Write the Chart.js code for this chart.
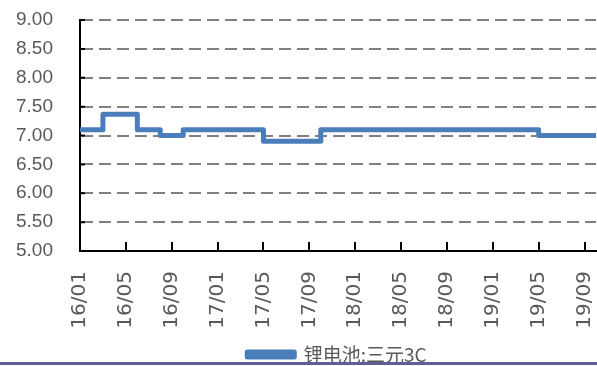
<!DOCTYPE html>
<html>
<head>
<meta charset="utf-8">
<script src="https://cdn.jsdelivr.net/npm/chart.js@4/dist/chart.umd.min.js"></script>
<style>
  html, body { margin: 0; padding: 0; background: #fff; }
  #wrap { width: 597px; height: 366px; position: relative; }
</style>
</head>
<body>
<div id="wrap"><canvas id="c"></canvas></div>
<script>
// 月度数据 16/01 - 19/10
const months = [
  '16/01','16/02','16/03','16/04','16/05','16/06','16/07','16/08','16/09','16/10','16/11','16/12',
  '17/01','17/02','17/03','17/04','17/05','17/06','17/07','17/08','17/09','17/10','17/11','17/12',
  '18/01','18/02','18/03','18/04','18/05','18/06','18/07','18/08','18/09','18/10','18/11','18/12',
  '19/01','19/02','19/03','19/04','19/05','19/06','19/07','19/08','19/09','19/10'
];
const ternary3C = [
  7.10, 7.10, 7.37, 7.37, 7.37, 7.10, 7.10, 7.00, 7.00, 7.10, 7.10, 7.10,
  7.10, 7.10, 7.10, 7.10, 6.90, 6.90, 6.90, 6.90, 6.90, 7.10, 7.10, 7.10,
  7.10, 7.10, 7.10, 7.10, 7.10, 7.10, 7.10, 7.10, 7.10, 7.10, 7.10, 7.10,
  7.10, 7.10, 7.10, 7.10, 7.00, 7.00, 7.00, 7.00, 7.00, 7.00
];
const seriesName = '锂电池:三元3C';

const LINE_COLOR = '#4A7EBB';
const TEXT_COLOR = '#595959';

function noPadding(scale) {
  scale.paddingLeft = 0; scale.paddingRight = 0;
  scale.paddingTop = 0; scale.paddingBottom = 0;
}

// 坐标轴内侧刻度 + 底部边线 + 图例位置微调
const innerTicks = {
  id: 'innerTicks',
  afterLayout(chart) {
    const lg = chart.legend;
    lg.left += 39; lg.right += 39;
    lg.top += 8; lg.bottom += 8;
  },
  afterDatasetsDraw(chart) {
    const { ctx, chartArea, scales } = chart;
    ctx.save();
    ctx.strokeStyle = '#000';
    ctx.lineWidth = 2;
    ctx.beginPath();
    scales.x.ticks.forEach((t, i) => {
      if (i % 4 !== 0 || i === 0) return;
      const x = Math.round(scales.x.getPixelForTick(i));
      ctx.moveTo(x, chartArea.bottom);
      ctx.lineTo(x, chartArea.bottom - 9);
    });
    scales.y.ticks.forEach((t, i) => {
      const y = scales.y.getPixelForTick(i);
      ctx.moveTo(chartArea.left, y);
      ctx.lineTo(chartArea.left + 5, y);
    });
    ctx.stroke();
    ctx.fillStyle = '#625e92';
    ctx.fillRect(0, 362, chart.width, 3);
    ctx.restore();
  }
};

new Chart(document.getElementById('c'), {
  type: 'line',
  data: {
    labels: months,
    datasets: [{
      label: seriesName,
      data: ternary3C,
      borderColor: LINE_COLOR,
      backgroundColor: LINE_COLOR,
      borderWidth: 5,
      borderJoinStyle: 'round',
      pointRadius: 0,
      stepped: 'before',
      fill: false
    }]
  },
  options: {
    responsive: true, maintainAspectRatio: false,
    animation: false,
    layout: { padding: { top: 20, right: 1, left: 0, bottom: 0 } },
    plugins: {
      tooltip: { enabled: false },
      legend: {
        position: 'bottom',
        labels: {
          boxWidth: 47, boxHeight: 5, padding: 7,
          color: TEXT_COLOR,
          font: { family: '"Noto Sans CJK SC", sans-serif', size: 19 }
        }
      }
    },
    scales: {
      x: {
        offset: false,
        afterFit(scale) { scale.height = 79; noPadding(scale); },
        grid: { display: false, drawTicks: false },
        border: { color: '#000', width: 2 },
        ticks: {
          autoSkip: false, maxRotation: 90, minRotation: 90,
          padding: 20,
          color: TEXT_COLOR,
          font: { family: '"DejaVu Sans", sans-serif', size: 20 },
          callback(v, i) { return i % 4 === 0 ? months[i] : ''; }
        }
      },
      y: {
        min: 5, max: 9,
        afterFit(scale) { scale.width = 80; noPadding(scale); },
        border: { color: '#000', width: 2, dash: [12, 6] },
        grid: { color: '#808080', lineWidth: 2, drawTicks: false },
        ticks: {
          stepSize: 0.5, padding: 27,
          color: TEXT_COLOR,
          font: { family: '"Liberation Sans", Arial, sans-serif', size: 19 },
          callback(v) { return v.toFixed(2); }
        }
      }
    }
  },
  plugins: [innerTicks]
});
</script>
</body>
</html>
